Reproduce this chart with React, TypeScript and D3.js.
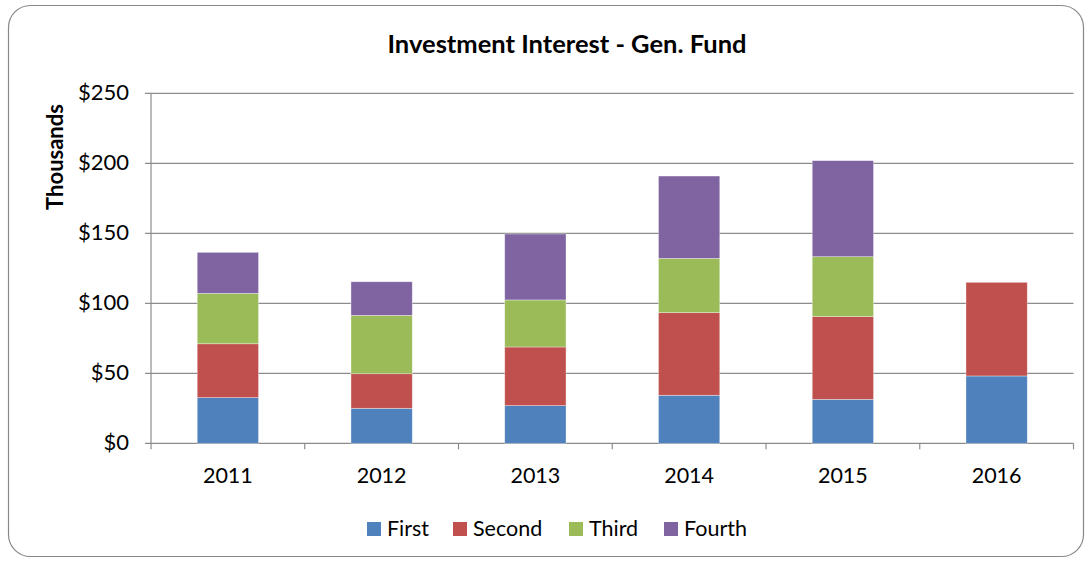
import React from "react";
import * as d3 from "d3";

const years = ["2011", "2012", "2013", "2014", "2015", "2016"];
const seriesNames = ["First", "Second", "Third", "Fourth"];
const first = [32.6, 25.0, 26.9, 34.3, 31.4, 48.1];
const second = [38.5, 24.7, 41.9, 59.0, 59.1, 66.9];
const third = [36.0, 41.7, 33.6, 38.8, 42.8, 0];
const fourth = [29.3, 24.0, 47.1, 58.8, 68.6, 0];
const yTicks = [0, 50, 100, 150, 200, 250];
const colors = ["#4F81BD", "#C0504D", "#9BBB59", "#8064A2"];

const W = 1092;
const H = 563;
const FONT = "Lato, 'Open Sans', sans-serif";

export default function App() {
  const left = 151;
  const right = 1073.5;
  const top = 93.3;
  const bottom = 443.3;

  const xOuter = d3.scaleBand<string>().domain(years).range([left, right]);
  const y = d3.scaleLinear().domain([0, 250]).range([bottom, top]);

  const rows = years.map((yr, i) => ({
    year: yr,
    First: first[i],
    Second: second[i],
    Third: third[i],
    Fourth: fourth[i],
  }));
  const stack = d3.stack<any>().keys(seriesNames)(rows);

  const bw = 61.3;

  const legendItems = [
    { name: "First", x: 367 },
    { name: "Second", x: 453 },
    { name: "Third", x: 569 },
    { name: "Fourth", x: 664 },
  ];

  return (
    <svg width={W} height={H} style={{ position: "absolute", left: 0, top: 0 }}>
      <rect x={8.5} y={5.5} width={1075} height={551} rx={22} ry={22} fill="#fff" stroke="#888" strokeWidth={1.2} />
      <text x={567} y={53} textAnchor="middle" fontFamily={FONT} fontWeight="bold" fontSize={25.5} fill="#000">
        Investment Interest - Gen. Fund
      </text>
      {yTicks.map((t) => (
        <g key={t}>
          <line x1={left - 6} x2={right} y1={y(t)} y2={y(t)} stroke="#8c8c8c" strokeWidth={1.2} />
          <text x={129} y={y(t) + 7} textAnchor="end" fontFamily={FONT} fontSize={22} fill="#000">
            {"$" + t}
          </text>
        </g>
      ))}
      <line x1={left} x2={left} y1={top} y2={bottom + 6} stroke="#8c8c8c" strokeWidth={1.2} />
      {years.map((yr) => (
        <line key={yr} x1={(xOuter(yr) as number) + xOuter.bandwidth()} x2={(xOuter(yr) as number) + xOuter.bandwidth()} y1={bottom} y2={bottom + 6} stroke="#8c8c8c" strokeWidth={1.2} />
      ))}
      {stack.map((s, si) => (
        <g key={s.key}>
          {s.map((d, i) => {
            if (d[1] - d[0] <= 0) return null;
            const cx = (xOuter(years[i]) as number) + xOuter.bandwidth() / 2;
            return (
              <rect
                key={i}
                x={cx - bw / 2}
                width={bw}
                y={y(d[1])}
                height={y(d[0]) - y(d[1])}
                fill={colors[si]}
                stroke="rgba(255,255,255,0.5)"
                strokeWidth={0.7}
              />
            );
          })}
        </g>
      ))}
      {years.map((yr) => (
        <text key={yr} x={(xOuter(yr) as number) + xOuter.bandwidth() / 2} y={483} textAnchor="middle" fontFamily={FONT} fontSize={21.5} fill="#000">
          {yr}
        </text>
      ))}
      <text transform={`translate(63,157) rotate(-90)`} textAnchor="middle" fontFamily={FONT} fontWeight="bold" fontSize={22} fill="#000">
        Thousands
      </text>
      {legendItems.map((l, i) => (
        <g key={l.name}>
          <rect x={l.x} y={522} width={14} height={14} fill={colors[i]} />
          <text x={l.x + 20} y={536} fontFamily={FONT} fontSize={21.5} fill="#000">
            {l.name}
          </text>
        </g>
      ))}
    </svg>
  );
}
